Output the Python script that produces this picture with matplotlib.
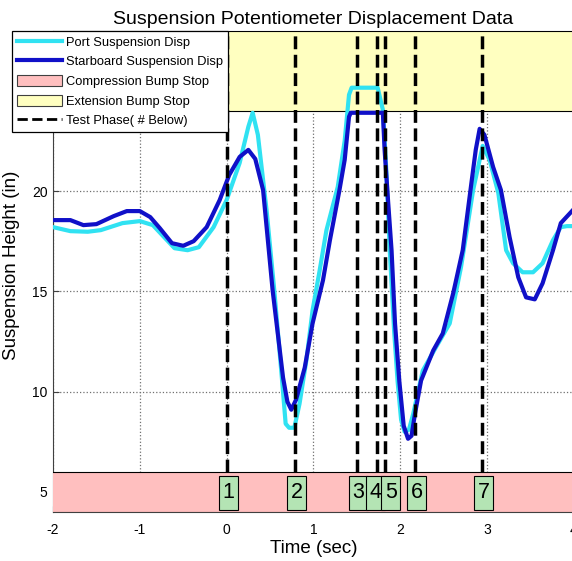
import matplotlib
matplotlib.use("Agg")
import matplotlib.pyplot as plt
from matplotlib.lines import Line2D
from matplotlib.patches import Patch

plt.rcParams["font.family"] = ["Liberation Sans", "DejaVu Sans"]
plt.rcParams["axes.unicode_minus"] = False

# port (cyan) trace
t_port = [-2.0, -1.8, -1.6, -1.45, -1.2, -1.0, -0.85, -0.72, -0.6, -0.45, -0.32, -0.15,
          0.0, 0.15, 0.25, 0.30, 0.36, 0.46, 0.55, 0.64, 0.68, 0.72, 0.78, 0.84, 0.92,
          0.99, 1.07, 1.15, 1.28, 1.36, 1.41, 1.44, 1.74, 1.80, 1.84, 1.88, 1.93, 1.97,
          2.01, 2.05, 2.10, 2.15, 2.26, 2.41, 2.57, 2.70, 2.84, 2.95, 3.03, 3.13, 3.22,
          3.30, 3.41, 3.53, 3.64, 3.76, 3.85, 3.92, 4.0]
port_disp = [18.2, 18.0, 17.97, 18.05, 18.4, 18.5, 18.3, 17.7, 17.15, 17.05, 17.2, 18.2,
             19.55, 21.4, 23.2, 23.9, 22.8, 19.05, 15.0, 10.5, 8.4, 8.2, 8.2, 9.4, 11.6,
             14.05, 16.0, 18.05, 20.2, 22.5, 24.8, 25.15, 25.15, 24.05, 21.0, 17.0, 13.0, 10.5,
             8.6, 8.0, 8.1, 8.9, 11.05, 12.2, 13.4, 16.2, 20.05, 22.25, 21.55, 19.9, 17.05,
             16.4, 15.95, 15.95, 16.4, 17.55, 18.2, 18.25, 18.25]

# starboard (blue) trace
t_stbd = [-2.0, -1.8, -1.65, -1.5, -1.3, -1.15, -1.0, -0.88, -0.77, -0.63, -0.5, -0.38,
          -0.23, -0.08, 0.03, 0.15, 0.25, 0.33, 0.42, 0.53, 0.65, 0.70, 0.745, 0.8, 0.9,
          0.99, 1.11, 1.19, 1.30, 1.36, 1.41, 1.43, 1.80, 1.82, 1.86, 1.90, 1.94, 1.99,
          2.04, 2.09, 2.13, 2.17, 2.24, 2.38, 2.49, 2.61, 2.72, 2.82, 2.87, 2.915, 2.97,
          3.07, 3.16, 3.26, 3.36, 3.45, 3.55, 3.64, 3.76, 3.85, 4.0]
stbd_disp = [18.55, 18.55, 18.3, 18.35, 18.75, 19.0, 19.0, 18.7, 18.15, 17.4, 17.27, 17.5,
             18.2, 19.55, 20.8, 21.7, 22.05, 21.6, 20.05, 15.05, 10.7, 9.5, 9.1, 9.6, 11.2,
             13.4, 15.55, 17.55, 20.05, 21.55, 23.7, 23.9, 23.9, 22.05, 19.5, 17.05, 13.4, 10.5,
             8.3, 7.65, 7.8, 8.9, 10.55, 12.05, 12.9, 14.9, 17.05, 20.4, 22.05, 23.1, 22.8,
             21.2, 20.05, 17.7, 15.7, 14.7, 14.6, 15.4, 17.05, 18.4, 19.1]

compression_stop = (4, 6)
extension_stop = (24, 28)

phase_times = [0.0, 0.79, 1.50, 1.73, 1.83, 2.17, 2.94]
phase_labels = ["1", "2", "3", "4", "5", "6", "7"]

x_ticks = [-2, -1, 0, 1, 2, 3, 4]
y_ticks = [5, 10, 15, 20, 25]

cyan = "#30e2f2"
blue = "#1010c8"
pink = "#ffbfbf"
yellow = "#ffffc0"
green = "#b4e4b4"

fig = plt.figure(figsize=(5.72, 5.61), dpi=100)
ax = fig.add_axes([0.0927, 0.0873, 0.9105, 0.8583])
ax.set_axisbelow(True)

ax.axhspan(*compression_stop, xmin=-0.01, xmax=1.01, facecolor=pink, edgecolor="black",
           linewidth=0.8, zorder=1)
ax.axhspan(*extension_stop, xmin=-0.01, xmax=1.01, facecolor=yellow, edgecolor="black",
           linewidth=0.8, zorder=1)

ax.plot(t_port, port_disp, color=cyan, linewidth=3, zorder=2)
ax.plot(t_stbd, stbd_disp, color=blue, linewidth=3, zorder=2.1)

ax.vlines(phase_times, compression_stop[1], extension_stop[1], colors="black",
          linestyles="--", linewidth=2.5, zorder=3)

# numbered boxes below each phase line (small nudges so 3/4/5 stay readable)
nudges = {"4": -0.01, "5": 0.06}
for i, (t, lab) in enumerate(zip(phase_times, phase_labels)):
    xc = t + nudges.get(lab, 0.02)
    ax.bar(xc, 1.66, width=0.22, bottom=4.12, color=green, edgecolor="black",
           linewidth=0.8, zorder=4 + 0.1 * i)
    ax.text(xc, 4.95, lab, ha="center", va="center", fontsize=15.5,
            zorder=4.05 + 0.1 * i)

ax.set_xlim(-2, 4)
ax.set_ylim(4, 28)
ax.set_xticks(x_ticks)
ax.set_yticks(y_ticks)
ax.tick_params(direction="in", length=4, labelsize=10, color="#404040")
ax.tick_params(axis="x", pad=8)
ax.tick_params(axis="y", pad=4)
ax.grid(True, linestyle=":", color="#707070", linewidth=0.9)
for s in ax.spines.values():
    s.set_zorder(0.6)
    s.set_color("#404040")

ax.set_title("Suspension Potentiometer Displacement Data", fontsize=14, pad=5)
ax.set_xlabel("Time (sec)", fontsize=13.5, labelpad=2)
ax.set_ylabel("Suspension Height (in)", fontsize=13.5, labelpad=4)
ax.yaxis.set_label_coords(-0.064, 0.513)

handles = [
    Line2D([], [], color=cyan, linewidth=3),
    Line2D([], [], color=blue, linewidth=3),
    Patch(facecolor=pink, edgecolor="#404040", linewidth=0.8),
    Patch(facecolor=yellow, edgecolor="#404040", linewidth=0.8),
    Line2D([], [], color="black", linestyle="--", linewidth=2),
]
labels = ["Port Suspension Disp", "Starboard Suspension Disp", "Compression Bump Stop",
          "Extension Bump Stop", "Test Phase( # Below)"]
leg = ax.legend(handles, labels, loc="upper left", bbox_to_anchor=(12 / 572, 1 - 31 / 561),
                bbox_transform=fig.transFigure, borderaxespad=0, fontsize=9.3,
                fancybox=False, framealpha=1, edgecolor="black", borderpad=0.35,
                handlelength=3.55, handleheight=1.0, handletextpad=0.3, labelspacing=0.5)
leg.get_frame().set_linewidth(0.9)
leg.set_zorder(10)

fig.savefig("out.png", dpi=100)
